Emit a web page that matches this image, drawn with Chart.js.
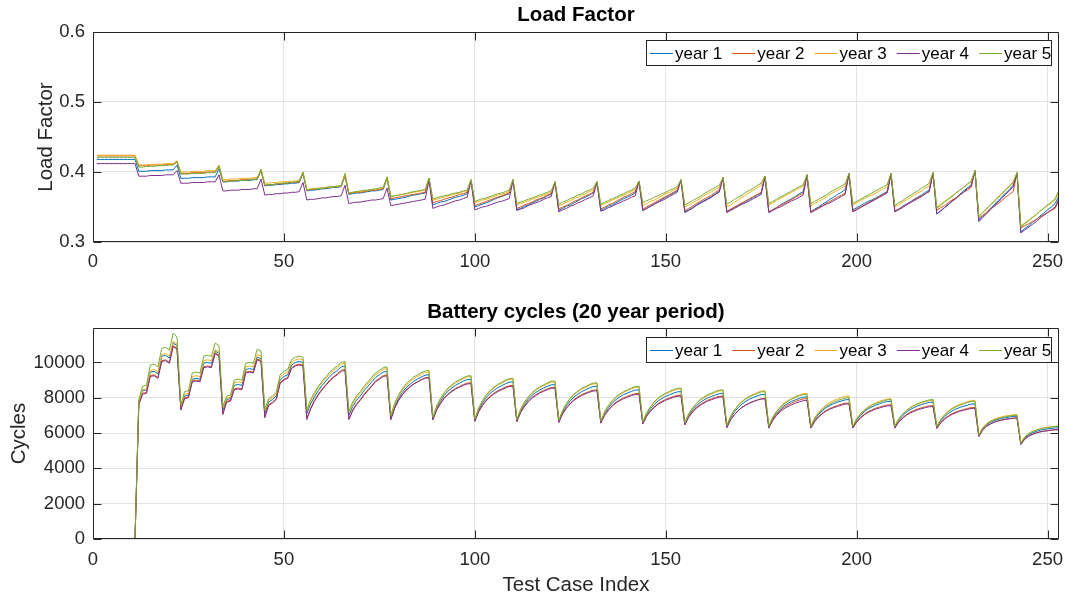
<!DOCTYPE html>
<html><head><meta charset="utf-8">
<script src="https://cdn.jsdelivr.net/npm/chart.js@4.4.1/dist/chart.umd.min.js"></script>
<style>
html,body{margin:0;padding:0;background:#fff;}
#wrap{position:relative;width:1065px;height:599px;overflow:hidden;background:#fff;}
canvas{position:absolute;left:0;}
#c1{top:0;} #c2{top:290px;}
</style></head><body>
<div id="wrap"><canvas id="c1" width="1065" height="290"></canvas><canvas id="c2" width="1065" height="309"></canvas></div>
<script>
const seriesNames = ['year 1','year 2','year 3','year 4','year 5'];
const seriesColors = ['#0072BD','#D95319','#EDB120','#7E2F8E','#77AC30'];
const caseIndex = Array.from({length:253},(_,i)=>i+1);
const xTicks = [0,50,100,150,200,250];
const lfTicks = [0.3,0.4,0.5,0.6];
const cycTicks = [0,2000,4000,6000,8000,10000];

const lf_year1 = [
.418,.418,.418,.418,.418,.418,.418,.418,.418,.418,.418,
.401,.401,.401,.402,.402,.402,.402,.403,.403,.403,.410,
.391,.391,.391,.392,.392,.392,.392,.393,.393,.393,.405,
.386,.386,.387,.387,.387,.388,.388,.388,.389,.389,.402,
.380,.381,.381,.382,.382,.383,.383,.384,.384,.385,.398,
.373,.374,.374,.375,.376,.376,.377,.378,.378,.379,.394,
.368,.369,.370,.370,.371,.372,.373,.373,.374,.375,.391,
.360,.361,.362,.363,.364,.366,.367,.368,.369,.370,.391,
.353,.355,.357,.358,.360,.362,.364,.365,.367,.369,.389,
.350,.352,.354,.356,.358,.361,.363,.365,.367,.369,.389,
.346,.348,.351,.353,.356,.358,.361,.363,.366,.368,.386,
.345,.348,.351,.353,.356,.359,.362,.364,.367,.370,.386,
.345,.348,.351,.353,.356,.359,.362,.364,.367,.370,.387,
.345,.348,.351,.354,.357,.361,.364,.367,.370,.373,.389,
.343,.346,.349,.353,.356,.359,.362,.365,.369,.372,.392,
.343,.346,.349,.352,.355,.358,.361,.364,.367,.370,.394,
.343,.346,.349,.353,.356,.359,.362,.365,.369,.372,.396,
.343,.347,.350,.354,.357,.361,.364,.368,.371,.375,.398,
.346,.349,.352,.355,.358,.360,.363,.366,.369,.372,.398,
.344,.347,.351,.354,.357,.361,.364,.367,.371,.374,.399,
.340,.345,.349,.354,.359,.363,.368,.373,.377,.382,.402,
.331,.337,.342,.348,.353,.359,.364,.370,.375,.381,.399,
.314,.319,.323,.328,.332,.337,.341,.346,.350,.355,.366];
const lf_year2 = [
.423,.423,.423,.423,.423,.423,.423,.423,.423,.423,.423,
.409,.409,.409,.410,.410,.410,.410,.411,.411,.411,.414,
.398,.398,.398,.399,.399,.399,.399,.400,.400,.400,.408,
.387,.387,.388,.388,.388,.389,.389,.389,.390,.390,.403,
.381,.382,.382,.383,.383,.384,.384,.385,.385,.386,.399,
.374,.375,.375,.376,.377,.377,.378,.379,.379,.380,.395,
.369,.370,.371,.371,.372,.373,.374,.374,.375,.376,.392,
.362,.363,.364,.365,.366,.367,.368,.369,.370,.371,.391,
.356,.358,.359,.361,.363,.364,.366,.368,.369,.371,.389,
.352,.354,.356,.358,.360,.362,.364,.366,.368,.370,.389,
.348,.350,.353,.355,.357,.360,.362,.364,.367,.369,.386,
.347,.350,.352,.355,.358,.360,.363,.366,.368,.371,.386,
.347,.350,.353,.355,.358,.361,.364,.366,.369,.372,.387,
.347,.350,.353,.356,.359,.362,.365,.368,.371,.374,.389,
.345,.348,.351,.355,.358,.361,.364,.367,.371,.374,.392,
.344,.347,.350,.353,.356,.359,.362,.365,.368,.371,.394,
.343,.346,.349,.352,.355,.358,.361,.364,.367,.370,.396,
.343,.346,.349,.352,.355,.358,.361,.364,.367,.370,.398,
.344,.347,.350,.353,.356,.359,.362,.365,.368,.371,.398,
.344,.347,.350,.353,.356,.360,.363,.366,.369,.372,.399,
.345,.349,.352,.356,.360,.363,.367,.371,.374,.378,.402,
.334,.338,.342,.347,.351,.355,.359,.364,.368,.372,.399,
.320,.323,.326,.329,.332,.336,.339,.342,.345,.348,.360];
const lf_year3 = [
.424,.424,.424,.424,.424,.424,.424,.424,.424,.424,.424,
.410,.410,.410,.411,.411,.411,.411,.412,.412,.412,.416,
.400,.400,.400,.401,.401,.401,.401,.402,.402,.402,.410,
.389,.389,.390,.390,.390,.391,.391,.391,.392,.392,.404,
.384,.384,.385,.385,.386,.386,.386,.387,.387,.388,.400,
.375,.376,.376,.377,.377,.378,.378,.379,.379,.380,.397,
.370,.371,.372,.372,.373,.374,.375,.375,.376,.377,.393,
.365,.366,.367,.368,.369,.370,.371,.372,.373,.374,.391,
.360,.361,.363,.364,.366,.367,.369,.370,.372,.373,.389,
.356,.358,.360,.361,.363,.365,.367,.368,.370,.372,.389,
.353,.355,.357,.359,.361,.363,.365,.367,.369,.371,.386,
.352,.354,.357,.359,.362,.364,.367,.369,.372,.374,.386,
.352,.355,.357,.360,.362,.365,.367,.370,.372,.375,.387,
.352,.355,.358,.360,.363,.366,.369,.371,.374,.377,.389,
.350,.353,.356,.359,.362,.366,.369,.372,.375,.378,.392,
.350,.353,.357,.360,.364,.367,.371,.374,.378,.381,.394,
.353,.356,.359,.362,.365,.368,.371,.374,.377,.380,.396,
.352,.355,.358,.361,.364,.368,.371,.374,.377,.380,.398,
.353,.356,.359,.362,.365,.367,.370,.373,.376,.379,.398,
.350,.353,.357,.360,.363,.367,.370,.373,.377,.380,.399,
.350,.354,.358,.362,.366,.370,.374,.378,.382,.386,.402,
.337,.342,.347,.353,.358,.363,.368,.374,.379,.384,.399,
.323,.327,.331,.335,.339,.344,.348,.352,.356,.360,.372];
const lf_year4 = [
.412,.412,.412,.412,.412,.412,.412,.412,.412,.412,.412,
.394,.394,.394,.395,.395,.395,.395,.396,.396,.396,.402,
.384,.384,.384,.385,.385,.385,.385,.386,.386,.386,.396,
.373,.373,.374,.374,.374,.375,.375,.375,.376,.376,.390,
.367,.368,.368,.369,.369,.370,.370,.371,.371,.372,.385,
.360,.361,.361,.362,.363,.363,.364,.365,.365,.366,.381,
.355,.356,.357,.357,.358,.359,.360,.360,.361,.362,.377,
.352,.353,.354,.355,.356,.357,.358,.359,.360,.361,.388,
.348,.350,.352,.353,.355,.357,.359,.360,.362,.364,.387,
.346,.348,.350,.351,.353,.355,.357,.358,.360,.362,.387,
.345,.347,.349,.352,.354,.356,.358,.361,.363,.365,.385,
.343,.346,.348,.351,.353,.356,.358,.361,.363,.366,.385,
.344,.346,.349,.351,.354,.356,.359,.361,.364,.366,.386,
.345,.348,.351,.354,.357,.359,.362,.365,.368,.371,.388,
.342,.345,.348,.352,.355,.358,.361,.364,.368,.371,.391,
.342,.345,.348,.351,.354,.356,.359,.362,.365,.368,.393,
.342,.345,.348,.350,.353,.356,.359,.361,.364,.367,.395,
.342,.345,.348,.351,.354,.356,.359,.362,.365,.368,.397,
.343,.346,.349,.352,.355,.358,.361,.364,.367,.370,.397,
.343,.346,.349,.353,.356,.359,.362,.365,.369,.372,.398,
.340,.344,.349,.353,.358,.362,.367,.371,.376,.380,.401,
.329,.335,.340,.346,.351,.357,.362,.368,.373,.379,.398,
.313,.317,.321,.325,.329,.334,.338,.342,.346,.350,.362];
const lf_year5 = [
.421,.421,.421,.421,.421,.421,.421,.421,.421,.421,.421,
.407,.407,.408,.408,.408,.409,.409,.409,.410,.410,.415,
.397,.397,.397,.398,.398,.398,.398,.399,.399,.399,.409,
.386,.386,.387,.387,.388,.388,.388,.389,.389,.390,.404,
.381,.382,.382,.383,.384,.384,.385,.385,.386,.387,.400,
.374,.375,.376,.376,.377,.378,.379,.379,.380,.381,.398,
.370,.371,.372,.373,.374,.374,.375,.376,.377,.378,.393,
.365,.366,.367,.368,.369,.371,.372,.373,.374,.375,.391,
.362,.363,.365,.366,.367,.369,.370,.371,.373,.374,.389,
.358,.360,.362,.363,.365,.367,.369,.370,.372,.374,.389,
.355,.357,.359,.361,.363,.365,.367,.369,.371,.373,.386,
.354,.357,.359,.362,.364,.367,.369,.372,.374,.377,.386,
.354,.357,.359,.362,.364,.367,.369,.372,.374,.377,.387,
.356,.359,.361,.364,.366,.369,.371,.374,.376,.379,.389,
.353,.356,.359,.362,.365,.369,.372,.375,.378,.381,.392,
.354,.357,.361,.364,.367,.371,.374,.377,.381,.384,.394,
.355,.358,.361,.364,.367,.370,.373,.376,.379,.382,.396,
.355,.358,.361,.364,.367,.371,.374,.377,.380,.383,.398,
.355,.358,.361,.364,.367,.370,.373,.376,.379,.382,.398,
.352,.356,.359,.363,.366,.370,.373,.377,.380,.384,.399,
.348,.352,.357,.361,.365,.370,.374,.378,.383,.387,.402,
.336,.342,.347,.353,.358,.364,.369,.375,.380,.386,.399,
.321,.326,.330,.335,.339,.344,.348,.353,.357,.362,.374];

const cyc_year1 = [
0,0,0,0,0,0,0,0,0,0,0,
7750,8400,8450,9450,9500,9350,10350,10400,10250,11100,10950,
7450,8100,8150,9050,9100,9050,9950,10000,9950,10650,10500,
7300,7900,7950,8700,8750,8700,9600,9650,9600,10300,10200,
7100,7750,7900,8100,9000,9200,9300,9850,10000,10050,10000,
7100,7650,8050,8400,8700,8950,9200,9400,9550,9750,9800,
7000,7500,7850,8100,8400,8650,8900,9150,9300,9450,9500,
6850,7510,7950,8300,8570,8760,8930,9060,9180,9280,9300,
6800,7410,7810,8130,8380,8560,8710,8830,8940,9030,9050,
6720,7310,7700,8010,8250,8420,8570,8680,8790,8880,8900,
6700,7250,7620,7910,8140,8300,8440,8550,8650,8730,8750,
6660,7200,7560,7830,8050,8210,8350,8450,8550,8630,8650,
6620,7110,7440,7700,7900,8050,8180,8270,8360,8430,8450,
6580,7060,7380,7620,7820,7960,8080,8170,8260,8330,8350,
6520,6990,7300,7540,7730,7870,7990,8080,8160,8230,8250,
6380,6870,7200,7450,7650,7800,7930,8020,8110,8180,8200,
6350,6810,7120,7350,7540,7680,7800,7880,7970,8030,8050,
6350,6770,7050,7260,7440,7560,7670,7750,7820,7880,7900,
6350,6740,7000,7210,7370,7480,7580,7660,7730,7790,7800,
6350,6730,6980,7180,7330,7440,7540,7610,7680,7740,7750,
6330,6690,6920,7110,7250,7360,7450,7520,7580,7640,7650,
5850,6240,6460,6600,6700,6770,6830,6870,6910,6940,6950,
5400,5720,5900,6010,6090,6160,6200,6240,6260,6290,6300];
const cyc_year2 = [
0,0,0,0,0,0,0,0,0,0,0,
7650,8250,8300,9250,9300,9150,10100,10150,10000,10950,10800,
7350,8000,8050,8950,9000,8950,9750,9800,9750,10550,10400,
7100,7800,7850,8500,8550,8500,9450,9500,9450,10200,10100,
6950,7600,7750,7950,8850,9050,9150,9700,9850,9900,9850,
6850,7400,7850,8200,8500,8750,9000,9200,9350,9550,9600,
6820,7300,7650,7900,8200,8450,8700,8950,9100,9250,9300,
6780,7420,7850,8180,8440,8630,8790,8910,9030,9130,9150,
6760,7320,7700,7990,8220,8390,8540,8640,8750,8830,8850,
6680,7230,7590,7870,8090,8260,8400,8500,8600,8680,8700,
6660,7180,7530,7800,8020,8170,8310,8410,8500,8580,8600,
6620,7110,7440,7700,7900,8050,8180,8270,8360,8430,8450,
6580,7030,7330,7570,7750,7880,8000,8080,8170,8230,8250,
6540,6970,7260,7490,7670,7800,7910,7990,8070,8130,8150,
6480,6920,7210,7440,7610,7740,7860,7940,8020,8080,8100,
6320,6760,7050,7280,7460,7590,7710,7790,7870,7930,7950,
6300,6750,7040,7270,7460,7590,7700,7790,7870,7930,7950,
6300,6680,6930,7130,7280,7390,7490,7560,7630,7690,7700,
6300,6650,6890,7070,7210,7310,7410,7470,7540,7590,7600,
6300,6640,6860,7040,7180,7280,7360,7430,7490,7540,7550,
6280,6600,6810,6970,7100,7190,7270,7330,7390,7440,7450,
5820,6180,6390,6520,6610,6690,6740,6780,6810,6840,6850,
5380,5670,5830,5940,6010,6070,6110,6140,6170,6190,6200];
const cyc_year3 = [
0,0,0,0,0,0,0,0,0,0,0,
7800,8450,8500,9550,9600,9450,10450,10500,10350,11200,11050,
7500,8200,8250,9200,9250,9200,10100,10150,10100,10750,10600,
7400,7980,8030,8850,8900,8850,9750,9800,9750,10450,10350,
7250,7850,8000,8200,9150,9350,9450,10000,10150,10200,10150,
7250,7800,8200,8550,8850,9100,9350,9550,9700,9900,9950,
7150,7650,8000,8250,8550,8800,9050,9300,9450,9600,9650,
6950,7630,8080,8430,8700,8900,9080,9200,9330,9430,9450,
6850,7480,7910,8240,8500,8680,8850,8970,9080,9180,9200,
6780,7390,7800,8120,8370,8550,8710,8820,8940,9030,9050,
6740,7320,7710,8010,8250,8420,8580,8680,8790,8880,8900,
6700,7270,7650,7940,8170,8340,8490,8590,8700,8780,8800,
6660,7180,7530,7800,8020,8170,8310,8410,8500,8580,8600,
6620,7130,7470,7730,7940,8090,8220,8310,8410,8480,8500,
6560,7060,7390,7650,7850,7990,8120,8220,8310,8380,8400,
6430,6960,7320,7590,7810,7970,8100,8200,8300,8380,8400,
6400,6900,7230,7490,7700,7840,7970,8070,8160,8230,8250,
6400,6860,7170,7400,7590,7730,7850,7930,8020,8080,8100,
6400,6820,7100,7310,7490,7610,7720,7800,7870,7930,7950,
6400,6790,7050,7260,7420,7530,7630,7710,7780,7840,7850,
6380,6780,7040,7250,7410,7530,7630,7700,7780,7830,7850,
5900,6300,6530,6680,6790,6870,6920,6970,7000,7040,7050,
5450,5780,5970,6100,6180,6250,6300,6330,6360,6390,6400];
const cyc_year4 = [
0,0,0,0,0,0,0,0,0,0,0,
7600,8200,8250,9200,9250,9100,10050,10100,9950,10900,10750,
7300,7950,8000,8900,8950,8900,9700,9750,9700,10500,10350,
7050,7750,7800,8450,8500,8450,9400,9450,9400,10150,10050,
6860,7550,7700,7900,8800,9000,9100,9650,9800,9850,9800,
6760,7350,7800,8150,8450,8700,8950,9150,9300,9500,9550,
6760,7250,7600,7850,8150,8400,8650,8900,9050,9200,9250,
6760,7400,7830,8160,8420,8610,8770,8890,9010,9110,9130,
6750,7300,7670,7960,8190,8350,8490,8600,8700,8780,8800,
6660,7200,7560,7830,8050,8210,8350,8450,8550,8630,8650,
6650,7160,7500,7770,7980,8130,8270,8360,8460,8530,8550,
6600,7090,7410,7660,7860,8000,8130,8220,8310,8380,8400,
6560,7000,7300,7530,7710,7840,7950,8040,8120,8180,8200,
6520,6950,7230,7450,7630,7750,7860,7940,8020,8080,8100,
6460,6890,7180,7400,7570,7700,7810,7890,7970,8030,8050,
6300,6750,7040,7270,7460,7590,7700,7790,7870,7930,7950,
6280,6700,6990,7210,7380,7500,7610,7690,7770,7830,7850,
6280,6650,6900,7090,7240,7350,7440,7510,7580,7640,7650,
6280,6620,6850,7030,7170,7270,7360,7420,7490,7540,7550,
6280,6610,6830,7000,7130,7230,7320,7380,7440,7490,7500,
6260,6570,6770,6930,7060,7150,7230,7290,7340,7390,7400,
5800,6170,6380,6510,6610,6680,6730,6780,6810,6840,6850,
5350,5640,5810,5920,6000,6060,6100,6130,6160,6180,6190];
const cyc_year5 = [
0,0,0,0,0,0,0,0,0,0,0,
7900,8650,8700,9850,9900,9750,10800,10850,10700,11650,11450,
7600,8350,8400,9400,9450,9400,10350,10400,10350,11100,10950,
7500,8100,8150,9000,9050,9000,9950,10000,9950,10750,10650,
7330,7950,8100,8300,9300,9500,9600,10150,10300,10350,10300,
7330,7900,8300,8650,8940,9200,9450,9650,9800,10000,10050,
7230,7750,8100,8350,8650,8900,9150,9400,9550,9700,9750,
7000,7690,8150,8500,8790,8990,9170,9300,9420,9520,9550,
6900,7530,7960,8290,8550,8730,8900,9020,9130,9230,9250,
6800,7420,7840,8160,8410,8590,8760,8870,8990,9080,9100,
6760,7350,7750,8050,8290,8470,8620,8730,8840,8930,8950,
6720,7290,7680,7980,8210,8380,8530,8640,8740,8830,8850,
6680,7210,7570,7840,8060,8220,8350,8450,8550,8630,8650,
6640,7160,7500,7770,7980,8130,8260,8360,8450,8530,8550,
6580,7090,7420,7680,7890,8040,8170,8260,8360,8430,8450,
6420,6940,7290,7560,7770,7930,8060,8160,8250,8330,8350,
6380,6870,7200,7450,7650,7800,7930,8020,8110,8180,8200,
6380,6820,7110,7340,7510,7640,7760,7840,7920,7980,8000,
6380,6790,7060,7280,7440,7570,7670,7750,7820,7880,7900,
6380,6790,7060,7280,7440,7570,7670,7750,7820,7880,7900,
6360,6750,7010,7210,7370,7480,7580,7660,7730,7790,7800,
5880,6270,6500,6640,6740,6820,6880,6920,6960,6990,7000,
5430,5760,5950,6080,6160,6230,6280,6310,6340,6370,6380];

const FONT = '"Liberation Sans", Arial, Helvetica, sans-serif';
const AXC = '#262626';
const GRID = '#e3e3e3';

const framePlugin = {
  id: 'frame',
  afterDatasetsDraw(chart, args, opts) {
    const {ctx, chartArea: a, scales: {x, y}} = chart;
    ctx.save();
    ctx.strokeStyle = AXC; ctx.lineWidth = 1;
    const L = Math.round(a.left) + 0.5, R = Math.round(a.right) - 0.5;
    const T = Math.round(a.top) + 0.5, B = Math.round(a.bottom) - 0.5;
    ctx.beginPath();
    ctx.rect(L, T, R - L, B - T);
    const tl = 8;
    x.ticks.forEach(t => {
      const px = Math.round(x.getPixelForValue(t.value)) + 0.5;
      ctx.moveTo(px, B); ctx.lineTo(px, B - tl);
      ctx.moveTo(px, T); ctx.lineTo(px, T + tl);
    });
    y.ticks.forEach(t => {
      const py = Math.round(y.getPixelForValue(t.value)) + 0.5;
      ctx.moveTo(L, py); ctx.lineTo(L + tl, py);
      ctx.moveTo(R, py); ctx.lineTo(R - tl, py);
    });
    ctx.stroke();
    ctx.restore();
  },
  afterDraw(chart, args, opts) {
    const {ctx} = chart;
    const [bx, by, bw, bh] = opts.box;
    ctx.save();
    ctx.fillStyle = '#fff';
    ctx.fillRect(bx, by, bw, bh);
    ctx.strokeStyle = AXC; ctx.lineWidth = 1;
    ctx.strokeRect(bx + 0.5, by + 0.5, bw - 1, bh - 1);
    ctx.font = '17px ' + FONT;
    ctx.textBaseline = 'middle';
    ctx.textAlign = 'left';
    let xx = bx + 4;
    const cy = by + bh / 2;
    chart.data.datasets.forEach(ds => {
      ctx.strokeStyle = ds.borderColor; ctx.lineWidth = 1;
      ctx.beginPath(); ctx.moveTo(xx, Math.round(cy) + 0.5); ctx.lineTo(xx + 23, Math.round(cy) + 0.5); ctx.stroke();
      ctx.fillStyle = '#000';
      ctx.fillText(ds.label, xx + 25, cy + 1);
      xx += 25 + ctx.measureText(ds.label).width + 10;
    });
    ctx.restore();
  }
};

function makeDatasets(arrs) {
  return arrs.map((d, i) => ({
    label: seriesNames[i], data: d, borderColor: seriesColors[i], backgroundColor: seriesColors[i],
    borderWidth: 1, pointRadius: 0, tension: 0, fill: false, order: 4 - i
  }));
}

function makeChart(id, cfg) {
  return new Chart(document.getElementById(id), {
    type: 'line',
    data: { labels: caseIndex, datasets: makeDatasets(cfg.arrs) },
    options: {
      responsive: false, animation: false, devicePixelRatio: 1, events: [],
      layout: { padding: { left: 0, right: 6, top: 0, bottom: 0 } },
      plugins: {
        legend: { display: false }, tooltip: { enabled: false },
        title: { display: true, text: cfg.title, fullSize: false, color: '#000',
          font: { family: FONT, size: 20.5, weight: 'bold' }, padding: cfg.titlePad },
        frame: { box: cfg.legendBox }
      },
      scales: {
        x: {
          type: 'linear', min: 0, max: 253,
          afterBuildTicks: s => { s.ticks = xTicks.map(v => ({value: v})); },
          ticks: { padding: cfg.xTickPad, color: AXC, font: { family: FONT, size: 18.5 }, maxRotation: 0, autoSkip: false, callback: v => String(v) },
          grid: { color: GRID, drawTicks: false, tickLength: 0 },
          border: { display: false },
          title: cfg.xTitle ? { display: true, text: cfg.xTitle, color: AXC, font: { family: FONT, size: 20.5 }, padding: { top: 0, bottom: cfg.xTitlePad } } : { display: false },
          afterFit: s => { s.height = cfg.xHeight; s.paddingLeft = 0; s.paddingRight = 0; }
        },
        y: {
          min: cfg.yMin, max: cfg.yMax,
          afterBuildTicks: s => { s.ticks = cfg.yTicks.map(v => ({value: v})); },
          ticks: { padding: 8, color: AXC, font: { family: FONT, size: 18.5 }, autoSkip: false, callback: cfg.yFmt },
          grid: { color: GRID, drawTicks: false, tickLength: 0 },
          border: { display: false },
          title: { display: true, text: cfg.yTitle, color: AXC, font: { family: FONT, size: 20.5 }, padding: { top: cfg.yTitlePad, bottom: 0 } },
          afterFit: s => { s.width = 93; s.paddingTop = 0; s.paddingBottom = 0; }
        }
      }
    },
    plugins: [framePlugin]
  });
}

makeChart('c1', {
  arrs: [lf_year1, lf_year2, lf_year3, lf_year4, lf_year5],
  title: 'Load Factor', titlePad: { top: 3.2, bottom: 4.2 },
  legendBox: [646, 40, 406, 26],
  xTickPad: 9, xHeight: 48, xTitle: null,
  yMin: 0.3, yMax: 0.6, yTicks: lfTicks, yFmt: v => v.toFixed(1),
  yTitle: 'Load Factor', yTitlePad: 33.7
});
makeChart('c2', {
  arrs: [cyc_year1, cyc_year2, cyc_year3, cyc_year4, cyc_year5],
  title: 'Battery cycles (20 year period)', titlePad: { top: 10.2, bottom: 3.2 },
  legendBox: [646, 47, 406, 26],
  xTickPad: 10, xHeight: 60, xTitle: 'Test Case Index', xTitlePad: 1.7,
  yMin: 0, yMax: 11950, yTicks: cycTicks, yFmt: v => String(v),
  yTitle: 'Cycles', yTitlePad: 7.2
});
</script>
</body></html>
